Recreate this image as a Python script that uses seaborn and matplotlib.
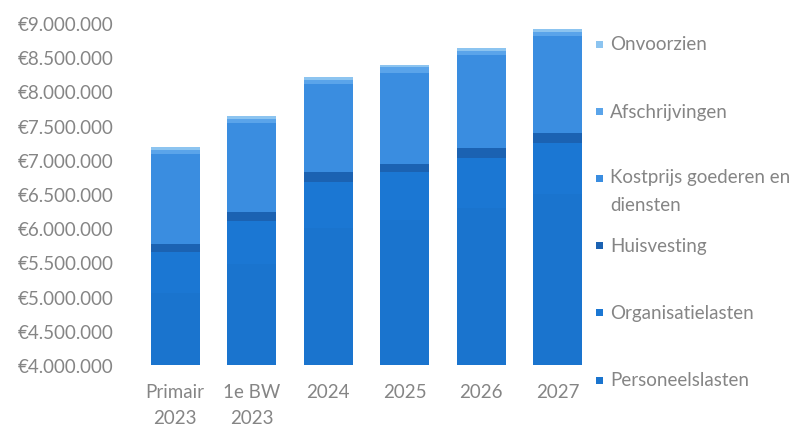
import matplotlib
matplotlib.use("Agg")
import matplotlib.pyplot as plt
import numpy as np
import pandas as pd
import seaborn as sns
from matplotlib.patches import Rectangle
from matplotlib.ticker import FuncFormatter

# categorieen en waarden (in euro)
CATEGORIES = ["Primair\n2023", "1e BW\n2023", "2024", "2025", "2026", "2027"]
PERSONEELSLASTEN = [5050000, 5480000, 6000000, 6120000, 6300000, 6500000]
ORGANISATIELASTEN = [600000, 630000, 680000, 700000, 730000, 750000]
HUISVESTING = [120000, 130000, 140000, 120000, 140000, 140000]
KOSTPRIJS = [1320000, 1300000, 1290000, 1330000, 1360000, 1420000]
AFSCHRIJVINGEN = [60000, 60000, 60000, 80000, 60000, 60000]
ONVOORZIEN = [40000, 40000, 40000, 40000, 40000, 40000]

SERIES = [
    ("Personeelslasten", PERSONEELSLASTEN, "#1a74ce"),
    ("Organisatielasten", ORGANISATIELASTEN, "#1b77d3"),
    ("Huisvesting", HUISVESTING, "#1b62b2"),
    ("Kostprijs goederen en\ndiensten", KOSTPRIJS, "#3a8de0"),
    ("Afschrijvingen", AFSCHRIJVINGEN, "#5aa4ea"),
    ("Onvoorzien", ONVOORZIEN, "#8cc4f0"),
]

TEXT_COLOR = "#858585"
FS = 13.5


def euro(v, _pos):
    return "€" + f"{v:,.0f}".replace(",", ".")


def main() -> None:
    sns.set_theme(style="white")
    plt.rcParams["font.family"] = ["Lato", "DejaVu Sans"]

    fig = plt.figure(figsize=(8.04, 4.27), dpi=100)
    W, H = 804, 427
    ax = fig.add_axes([137 / W, (H - 366) / H, (596 - 137) / W, (366 - 24) / H])

    df = pd.DataFrame({"cat": CATEGORIES})
    cum = np.zeros(len(CATEGORIES))
    layers = []
    for name, vals, color in SERIES:
        cum = cum + np.array(vals, dtype=float)
        layers.append((name, cum.copy(), color))

    # van hoogste cumulatief naar laagste tekenen, zodat de stapeling zichtbaar is
    for name, c, color in reversed(layers):
        df["val"] = c
        sns.barplot(data=df, x="cat", y="val", color=color, saturation=1,
                    width=0.64, ax=ax, order=CATEGORIES, linewidth=0)

    ax.set_ylim(4000000, 9000000)
    ax.set_xlim(-0.5, len(CATEGORIES) - 0.5)
    ax.set_yticks(np.arange(4000000, 9000001, 500000))
    ax.yaxis.set_major_formatter(FuncFormatter(euro))
    ax.set_xlabel("")
    ax.set_ylabel("")
    for s in ax.spines.values():
        s.set_visible(False)
    ax.tick_params(axis="y", length=0, pad=17, labelsize=FS, labelcolor=TEXT_COLOR)
    ax.tick_params(axis="x", length=0, pad=13, labelsize=FS, labelcolor=TEXT_COLOR)
    for lab in ax.get_xticklabels():
        lab.set_linespacing(1.65)
        lab.set_verticalalignment("top")

    # legenda rechts, van boven naar beneden
    y_top, step = 45, 67.2
    for i, (name, _vals, color) in enumerate(reversed(SERIES)):
        yc = y_top + i * step
        fig.add_artist(Rectangle((596 / W, (H - yc - 3.5) / H), 7 / W, 7 / H,
                                 transform=fig.transFigure, facecolor=color,
                                 edgecolor="none"))
        if "\n" in name:
            fig.text(610 / W, (H - yc + 10) / H, name, fontsize=FS, color=TEXT_COLOR,
                     va="top", linespacing=1.75)
        else:
            fig.text(610 / W, (H - yc) / H, name, fontsize=FS, color=TEXT_COLOR,
                     va="center")

    fig.savefig("out.png", dpi=100)


if __name__ == "__main__":
    main()
